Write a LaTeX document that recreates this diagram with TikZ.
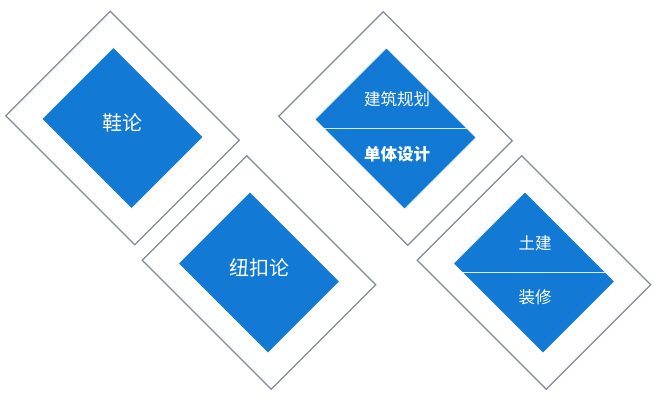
\documentclass[tikz,border=0pt]{standalone}
\usepackage{fontspec}
\newfontfamily\cjk{Noto Sans CJK SC}
\definecolor{framegray}{RGB}{128,138,150}
\definecolor{tileblue}{RGB}{18,121,212}
\definecolor{divline}{RGB}{215,240,255}
\begin{document}
\begin{tikzpicture}[x=1pt,y=1pt,
  frame/.style={draw=framegray, line width=1.1pt, rotate=-45, minimum width=182.4pt, minimum height=147.8pt, inner sep=0pt, outer sep=0pt},
  tile/.style={fill=tileblue, draw=white, line width=0.6pt, rotate=-45, minimum width=126.6pt, minimum height=101.1pt, inner sep=0pt, outer sep=0pt},
  biglabel/.style={text=white, inner sep=0pt, font=\cjk\fontsize{20}{24}\selectfont},
  smalllabel/.style={text=white, inner sep=0pt, font=\cjk\fontsize{16.5}{20}\selectfont},
  divider/.style={draw=divline, line width=1.2pt}]
\useasboundingbox (0,0) rectangle (662,405);
% diamond 1
\node[frame] (f1) at (122.5,277) {};
\node[tile] (t1) at (122.5,277) {};
\node[biglabel] (l1) at (122.5,282) {鞋论};
% diamond 3
\node[frame] (f3) at (259,132.5) {};
\node[tile] (t3) at (259,132.5) {};
\node[biglabel] (l3) at (259,137.5) {纽扣论};
% diamond 2
\node[frame] (f2) at (395.5,276.5) {};
\node[tile] (t2) at (395.5,276.5) {};
\coordinate (h2) at ([xshift=10pt]t2.center);
\draw[divider] (intersection of t2.south west--t2.south east and t2.center--h2)
  -- (intersection of t2.north west--t2.north east and t2.center--h2);
\node[smalllabel] (l2a) at (397,306) {建筑规划};
\node[smalllabel, font=\cjk\bfseries\fontsize{16.5}{20}\selectfont] (l2b) at (397,251) {单体设计};
% diamond 4
\node[frame] (f4) at (534,132.5) {};
\node[tile] (t4) at (534,132.5) {};
\coordinate (h4) at ([xshift=10pt]t4.center);
\draw[divider] (intersection of t4.south west--t4.south east and t4.center--h4)
  -- (intersection of t4.north west--t4.north east and t4.center--h4);
\node[smalllabel] (l4a) at (535,162) {土建};
\node[smalllabel] (l4b) at (535,108) {装修};
\end{tikzpicture}
\end{document}
